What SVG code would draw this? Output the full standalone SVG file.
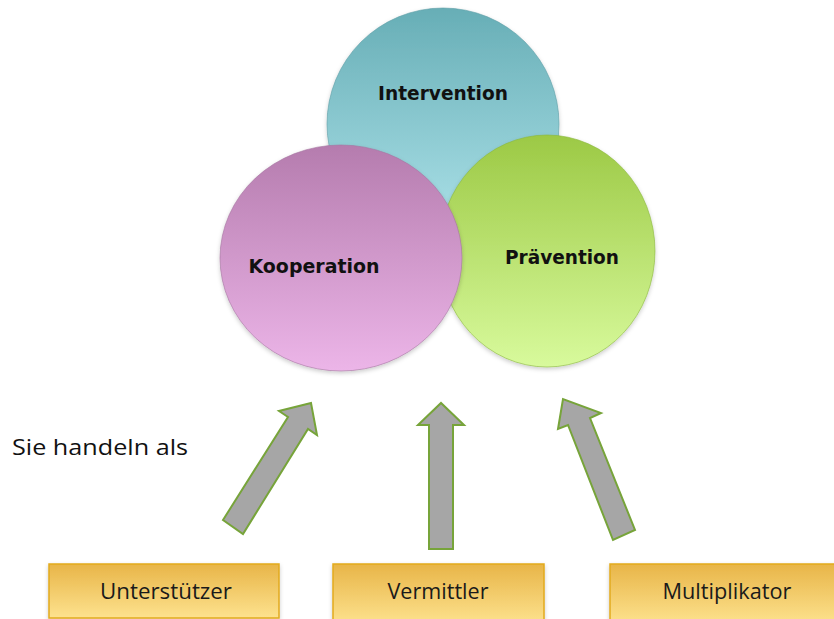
<svg xmlns="http://www.w3.org/2000/svg" width="834" height="619" viewBox="0 0 834 619">
  <defs>
    <linearGradient id="gInter" x1="0" y1="0" x2="0" y2="1">
      <stop offset="0" stop-color="#67aeb6"/>
      <stop offset="1" stop-color="#aee3ea"/>
    </linearGradient>
    <linearGradient id="gPraev" x1="0" y1="0" x2="0" y2="1">
      <stop offset="0" stop-color="#9cc945"/>
      <stop offset="1" stop-color="#d8fa9c"/>
    </linearGradient>
    <linearGradient id="gKoop" x1="0" y1="0" x2="0" y2="1">
      <stop offset="0" stop-color="#b57cae"/>
      <stop offset="1" stop-color="#ecb5e8"/>
    </linearGradient>
    <linearGradient id="gBox" x1="0" y1="0" x2="0" y2="1">
      <stop offset="0" stop-color="#e8b548"/>
      <stop offset="1" stop-color="#fde28e"/>
    </linearGradient>
    <filter id="soft" x="-10%" y="-10%" width="120%" height="130%">
      <feDropShadow dx="0" dy="2" stdDeviation="2" flood-color="#000" flood-opacity="0.2"/>
    </filter>
  </defs>
  <style>
    .circle { stroke-width: 1; stroke-opacity: 0.6; filter: url(#soft); }
    .ctext { font-family: "DejaVu Sans", sans-serif; font-weight: bold; font-size: 19px; fill: #111; text-anchor: middle; }
    .arrow { fill: #a6a6a6; stroke: #77a43a; stroke-width: 2; stroke-linejoin: miter; }
    .box { fill: url(#gBox); stroke: #e2aa1e; stroke-width: 1.5; filter: url(#soft); }
    .btext { font-family: "Open Sans", "Liberation Sans", sans-serif; font-size: 21px; fill: #1a1a1a; text-anchor: middle; }
    .label { font-family: "Open Sans", "Liberation Sans", sans-serif; font-size: 22px; fill: #111; }
  </style>

  <rect width="834" height="619" fill="#ffffff"/>

  <!-- overlapping circles -->
  <g id="intervention">
    <ellipse class="circle" cx="443" cy="124" rx="116" ry="116" fill="url(#gInter)" stroke="#5f9ea6"/>
    <text class="ctext" x="443" y="100" textLength="130" lengthAdjust="spacingAndGlyphs">Intervention</text>
  </g>
  <g id="praevention">
    <ellipse class="circle" cx="547" cy="251" rx="108" ry="116" fill="url(#gPraev)" stroke="#8ab83e"/>
    <text class="ctext" x="562" y="264" textLength="114" lengthAdjust="spacingAndGlyphs">Prävention</text>
  </g>
  <g id="kooperation">
    <ellipse class="circle" cx="341" cy="258" rx="121" ry="113" fill="url(#gKoop)" stroke="#a574a0"/>
    <text class="ctext" x="314" y="273" textLength="131" lengthAdjust="spacingAndGlyphs">Kooperation</text>
  </g>

  <text class="label" x="12" y="455" textLength="176" lengthAdjust="spacingAndGlyphs">Sie handeln als</text>

  <!-- block arrows pointing up to the circles -->
  <g id="connectors">
    <polygon class="arrow" points="223,520 288,417 279,411 311,403 317,435 308,429 243,534"/>
    <polygon class="arrow" points="429,549 429,425 418,425 441,403 464,425 453,425 453,549"/>
    <polygon class="arrow" points="613,540 568,425 558,429 563,399 601,413 590,418 635,530"/>
  </g>

  <!-- role boxes -->
  <g id="unterstuetzer">
    <rect class="box" x="49" y="564" width="230" height="54"/>
    <text class="btext" x="166" y="599" textLength="132" lengthAdjust="spacingAndGlyphs">Unterstützer</text>
  </g>
  <g id="vermittler">
    <rect class="box" x="333" y="564" width="211" height="60"/>
    <text class="btext" x="438" y="599" textLength="101" lengthAdjust="spacingAndGlyphs">Vermittler</text>
  </g>
  <g id="multiplikator">
    <rect class="box" x="610" y="564" width="240" height="60"/>
    <text class="btext" x="727" y="599" textLength="129" lengthAdjust="spacingAndGlyphs">Multiplikator</text>
  </g>
</svg>
